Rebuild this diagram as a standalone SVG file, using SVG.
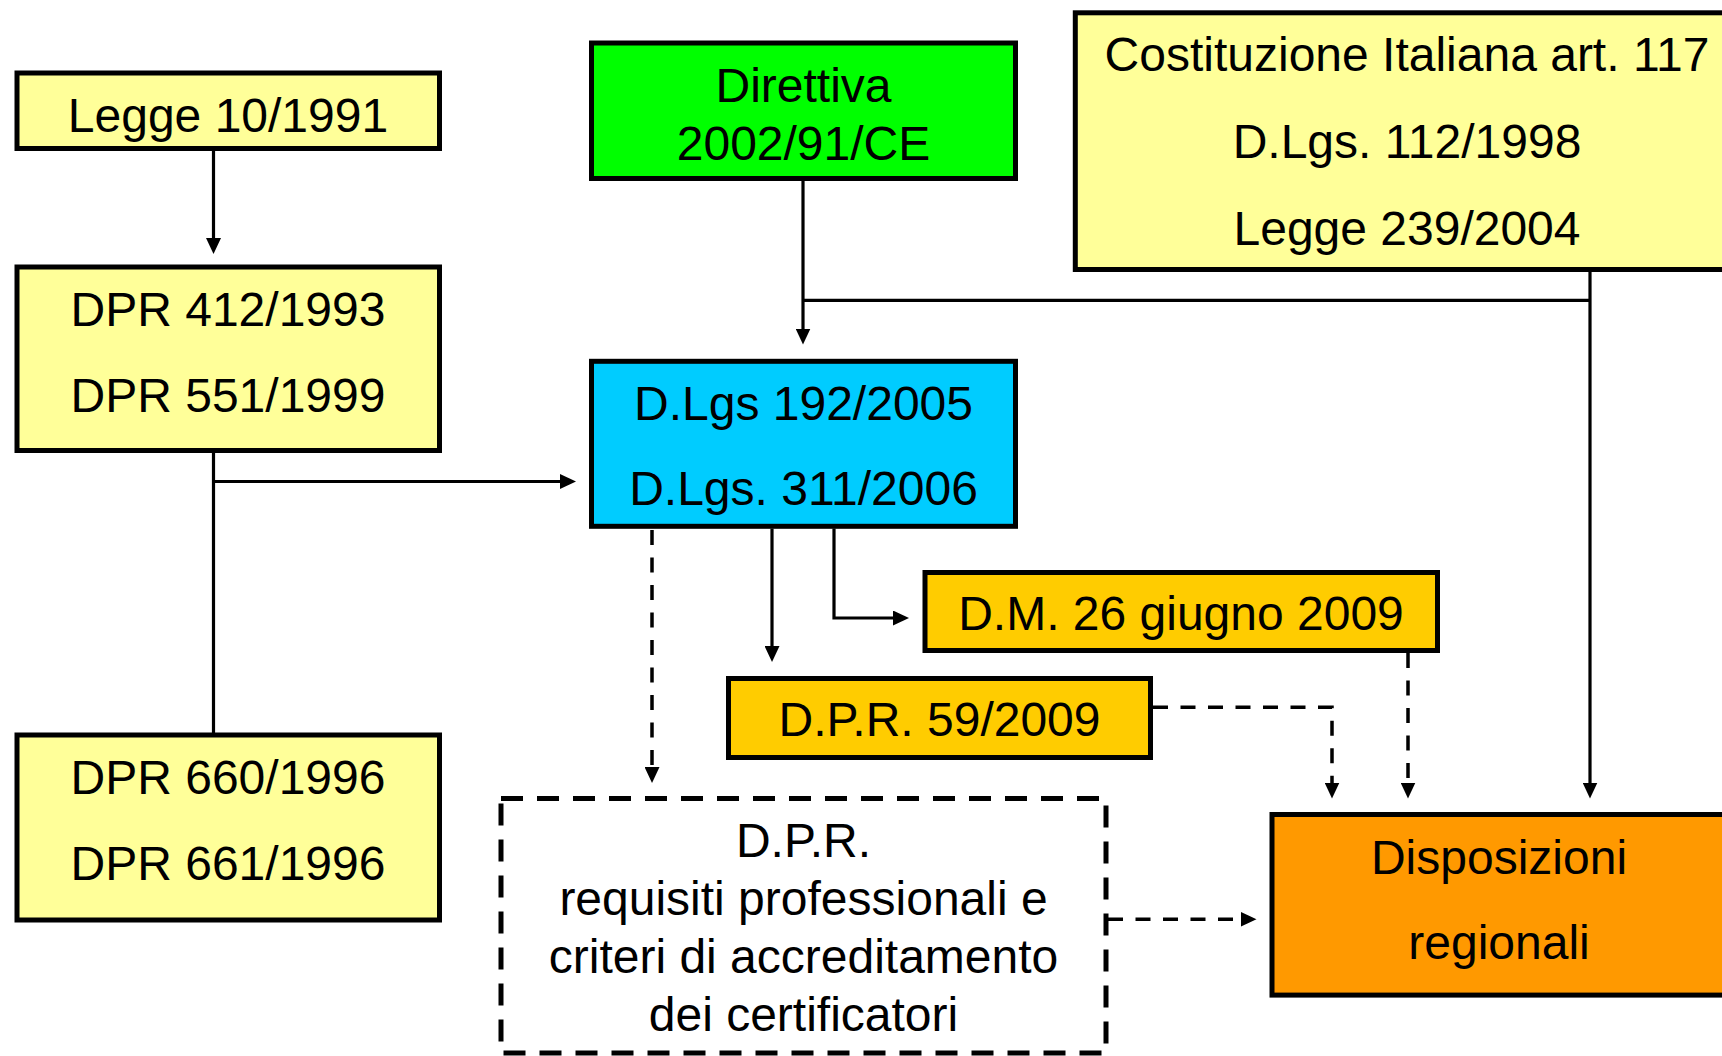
<svg xmlns="http://www.w3.org/2000/svg" width="1722" height="1056" viewBox="0 0 1722 1056">
<defs>
<style>
.box{stroke:#000;stroke-width:5}
.t{font-family:"Liberation Sans",Arial,sans-serif;font-size:48px;fill:#000;text-anchor:middle}
.c{fill:none;stroke:#000;stroke-width:3.2}
.d{fill:none;stroke:#000;stroke-width:3.5;stroke-dasharray:15 12.5}
</style>
<marker id="ah" markerUnits="userSpaceOnUse" markerWidth="16" markerHeight="15" refX="1" refY="7.5" orient="auto">
<path d="M0,0 L16,7.5 L0,15 z" fill="#000" stroke="none"/>
</marker>
</defs>
<rect width="1722" height="1056" fill="#fff"/>

<g id="connectors">
<path class="c" d="M213.5,151 V239" marker-end="url(#ah)"/>
<path class="c" d="M213.5,453 V734"/>
<path class="c" d="M213.5,481.5 H561" marker-end="url(#ah)"/>
<path class="c" d="M803,181 V329.5" marker-end="url(#ah)"/>
<path class="c" d="M803,300.3 H1590"/>
<path class="c" d="M1590,272 V783.5" marker-end="url(#ah)"/>
<path class="c" d="M772,528.6 V647" marker-end="url(#ah)"/>
<path class="c" d="M834,528.6 V618 H894" marker-end="url(#ah)"/>
<path class="d" d="M652,530 V768" marker-end="url(#ah)"/>
<path class="d" d="M1153,707.3 H1332 V783.5" marker-end="url(#ah)"/>
<path class="d" d="M1408,653 V783.5" marker-end="url(#ah)"/>
<path class="d" d="M1108,919.3 H1241.5" marker-end="url(#ah)"/>
</g>

<g id="legge-10-1991">
<rect class="box" x="17" y="73" width="422.5" height="75.5" fill="#FFFF99"/>
<text class="t" x="228" y="132">Legge 10/1991</text>
</g>

<g id="dpr-412-551">
<rect class="box" x="17" y="267" width="422.5" height="183.5" fill="#FFFF99"/>
<text class="t" x="228" y="325.5">DPR 412/1993</text>
<text class="t" x="228" y="411.5">DPR 551/1999</text>
</g>

<g id="dpr-660-661">
<rect class="box" x="17" y="735" width="422.5" height="185" fill="#FFFF99"/>
<text class="t" x="228" y="793.5">DPR 660/1996</text>
<text class="t" x="228" y="880">DPR 661/1996</text>
</g>

<g id="direttiva">
<rect class="box" x="591.5" y="43" width="424" height="135.5" fill="#00FF00"/>
<text class="t" x="803.5" y="101.6">Direttiva</text>
<text class="t" x="803.5" y="160">2002/91/CE</text>
</g>

<g id="dlgs-192-311">
<rect class="box" x="591.5" y="361.3" width="424" height="165" fill="#00CCFF"/>
<text class="t" x="803.5" y="419.5">D.Lgs 192/2005</text>
<text class="t" x="803.5" y="504.5">D.Lgs. 311/2006</text>
</g>

<g id="costituzione">
<rect class="box" x="1075.3" y="12.8" width="663" height="256.7" fill="#FFFF99"/>
<text class="t" x="1407" y="71.3">Costituzione Italiana art. 117</text>
<text class="t" x="1407" y="158.4">D.Lgs. 112/1998</text>
<text class="t" x="1407" y="244.5">Legge 239/2004</text>
</g>

<g id="dm-2009">
<rect class="box" x="925" y="572.5" width="512.5" height="78" fill="#FFCC00"/>
<text class="t" x="1181" y="630">D.M. 26 giugno 2009</text>
</g>

<g id="dpr-59-2009">
<rect class="box" x="728.5" y="678.5" width="422" height="79" fill="#FFCC00"/>
<text class="t" x="939.5" y="736">D.P.R. 59/2009</text>
</g>

<g id="dpr-requisiti">
<rect x="501" y="798.5" width="605" height="254.5" fill="#fff" stroke="#000" stroke-width="5" stroke-dasharray="22 14"/>
<text class="t" x="803.5" y="856.7">D.P.R.</text>
<text class="t" x="803.5" y="914.9">requisiti professionali e</text>
<text class="t" x="803.5" y="973">criteri di accreditamento</text>
<text class="t" x="803.5" y="1031">dei certificatori</text>
</g>

<g id="disposizioni-regionali">
<rect class="box" x="1272" y="814.5" width="453" height="180.6" fill="#FF9900"/>
<text class="t" x="1499" y="873.8">Disposizioni</text>
<text class="t" x="1499" y="959.3">regionali</text>
</g>
</svg>
